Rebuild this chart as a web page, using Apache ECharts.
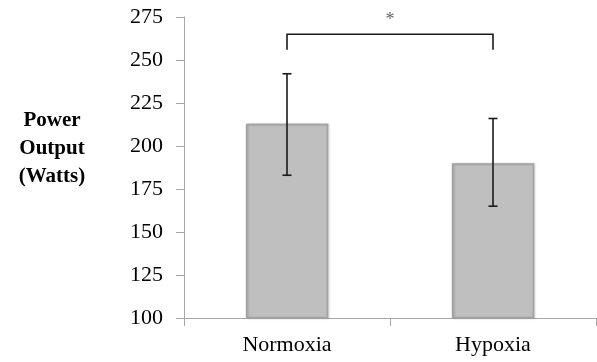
<!DOCTYPE html>
<html>
<head>
<meta charset="utf-8">
<script src="https://cdn.jsdelivr.net/npm/echarts@6/dist/echarts.min.js"></script>
<style>
html, body { margin: 0; padding: 0; background: #fff; }
#main { width: 597px; height: 362px; }
</style>
</head>
<body>
<div id="main"></div>
<script>
// 数据
var categories = ['Normoxia', 'Hypoxia'];
var means = [213, 190];
var errLow = [183, 165];
var errHigh = [242, 216];
var yTicks = [100, 275, 25]; // min, max, interval
var yTitle = 'Power\nOutput\n(Watts)';
var bracketTop = 265;
var bracketBottom = 256;
var sigMark = '*';

var dom = document.getElementById('main');
var chart = echarts.init(dom);

var errData = [];
for (var i = 0; i < categories.length; i++) {
	errData.push([i, errLow[i], errHigh[i]]);
}

var serif = '"Liberation Serif", "Times New Roman", serif';

var option = {
	animation: false,
	grid: {
		left: 184,
		right: 1,
		top: 17,
		bottom: 44
	},
	graphic: [{
		type: 'text',
		position: [52, 149],
		style: {
			text: yTitle,
			x: 0,
			y: 0,
			align: 'center',
			verticalAlign: 'middle',
			fill: '#000',
			font: 'bold 21px ' + serif,
			lineHeight: 28
		}
	}],
	xAxis: {
		type: 'category',
		data: categories,
		axisLine: { lineStyle: { color: '#a6a6a6', width: 1 } },
		axisTick: { show: true, length: 8, lineStyle: { color: '#a6a6a6' } },
		axisLabel: { color: '#000', fontFamily: serif, fontSize: 22, margin: 16 }
	},
	yAxis: {
		type: 'value',
		min: yTicks[0],
		max: yTicks[1],
		interval: yTicks[2],
		axisLine: { show: true, lineStyle: { color: '#a6a6a6', width: 1 } },
		axisTick: { show: true, length: 8, lineStyle: { color: '#a6a6a6' } },
		axisLabel: { color: '#000', fontFamily: serif, fontSize: 22, margin: 21 },
		splitLine: { show: false }
	},
	series: [
		{
			type: 'bar',
			data: means,
			barWidth: '40%',
			itemStyle: {
				color: '#bfbfbf',
				borderColor: '#a3a3a3',
				borderWidth: 1.5,
				shadowColor: 'rgba(0,0,0,0.2)',
				shadowBlur: 2,
				shadowOffsetX: 1
			}
		},
		{
			type: 'custom',
			data: errData,
			z: 10,
			renderItem: function (params, api) {
				var x = api.value(0);
				var lo = api.coord([x, api.value(1)]);
				var hi = api.coord([x, api.value(2)]);
				var half = 4.5;
				var st = { stroke: '#1a1a1a', lineWidth: 1.6, fill: null };
				return {
					type: 'group',
					children: [
						{ type: 'line', shape: { x1: hi[0], y1: hi[1], x2: lo[0], y2: lo[1] }, style: st },
						{ type: 'line', shape: { x1: hi[0] - half, y1: hi[1], x2: hi[0] + half, y2: hi[1] }, style: st },
						{ type: 'line', shape: { x1: lo[0] - half, y1: lo[1], x2: lo[0] + half, y2: lo[1] }, style: st }
					]
				};
			}
		},
		{
			type: 'custom',
			data: [[0, 1, bracketTop, bracketBottom]],
			z: 10,
			renderItem: function (params, api) {
				var a = api.coord([api.value(0), api.value(3)]);
				var b = api.coord([api.value(0), api.value(2)]);
				var c = api.coord([api.value(1), api.value(2)]);
				var d = api.coord([api.value(1), api.value(3)]);
				return {
					type: 'group',
					children: [
						{
							type: 'polyline',
							shape: { points: [a, b, c, d] },
							style: { stroke: '#1a1a1a', lineWidth: 1.6, fill: null }
						},
						{
							type: 'text',
							style: {
								text: sigMark,
								x: (b[0] + c[0]) / 2,
								y: b[1] - 14,
								align: 'center',
								verticalAlign: 'middle',
								fill: '#666',
								font: '18px ' + serif
							}
						}
					]
				};
			}
		}
	]
};

chart.setOption(option, true);
window.addEventListener('resize', function (e) {
	chart.resize();
});
</script>
</body>
</html>
